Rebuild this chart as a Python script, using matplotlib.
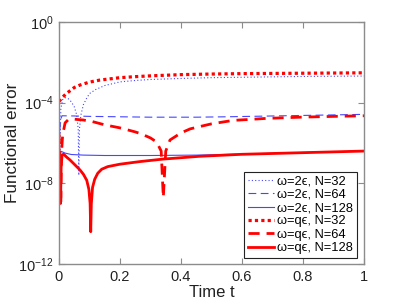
import matplotlib
matplotlib.use("Agg")
import matplotlib.pyplot as plt
import numpy as np

plt.rcParams['font.family'] = ['Liberation Sans', 'DejaVu Sans']
plt.rcParams['mathtext.fontset'] = 'custom'
plt.rcParams['mathtext.rm'] = 'Liberation Sans'
plt.rcParams['mathtext.it'] = 'Liberation Sans:italic'
plt.rcParams['mathtext.sf'] = 'Liberation Sans'

# ---- data (log10 of functional error) ----
t_b32 = [0.0, 0.003, 0.006, 0.012, 0.02, 0.03, 0.04, 0.05, 0.058, 0.063, 0.065, 0.067,
         0.072, 0.08, 0.09, 0.1, 0.12, 0.15, 0.2, 0.25, 0.3, 0.4, 0.5, 0.6, 0.7, 0.8, 0.9, 1.0]
l_b32 = [-5.5, -6.5, -4.3, -3.85, -3.75, -3.8, -3.95, -4.2, -4.6, -5.3, -7.6, -5.3,
         -4.6, -4.1, -3.8, -3.55, -3.35, -3.15, -2.97, -2.9, -2.85, -2.8, -2.76, -2.74,
         -2.72, -2.7, -2.69, -2.68]

t_b64 = [0.0, 0.003, 0.006, 0.01, 0.05, 0.1, 0.2, 0.3, 0.45, 0.55, 0.7, 0.85, 1.0]
l_b64 = [-6.0, -5.3, -4.8, -4.65, -4.66, -4.68, -4.7, -4.72, -4.72, -4.7, -4.66, -4.62, -4.58]

t_b128 = [0.0, 0.002, 0.004, 0.008, 0.02, 0.04, 0.08, 0.15, 0.3, 0.45, 0.6, 0.8, 1.0]
l_b128 = [-9.0, -7.5, -6.5, -6.42, -6.5, -6.57, -6.6, -6.62, -6.62, -6.6, -6.55, -6.47, -6.4]

t_q32 = [0.0, 0.005, 0.01, 0.025, 0.05, 0.07, 0.1, 0.134, 0.2, 0.25, 0.3, 0.4, 0.5,
         0.6, 0.7, 0.8, 0.9, 1.0]
l_q32 = [-3.95, -3.85, -3.75, -3.54, -3.25, -3.12, -2.98, -2.88, -2.76, -2.71, -2.67,
         -2.61, -2.58, -2.56, -2.55, -2.54, -2.53, -2.52]

t_q64 = [0.0, 0.004, 0.006, 0.008, 0.012, 0.02, 0.03, 0.05, 0.08, 0.11, 0.15, 0.2, 0.25,
         0.27, 0.3, 0.32, 0.335, 0.342, 0.35, 0.364, 0.4, 0.43, 0.46, 0.5, 0.57, 0.68,
         0.79, 0.9, 1.0]
l_q64 = [-5.5, -7.0, -9.0, -6.5, -5.6, -5.0, -4.85, -4.82, -4.86, -4.94, -5.1, -5.25,
         -5.45, -5.55, -5.75, -5.95, -6.4, -8.7, -6.4, -5.85, -5.5, -5.3, -5.19, -5.05,
         -4.88, -4.78, -4.72, -4.68, -4.65]

t_q128 = [0.0, 0.003, 0.005, 0.007, 0.01, 0.015, 0.025, 0.036, 0.05, 0.069, 0.08, 0.091,
          0.098, 0.102, 0.104, 0.106, 0.11, 0.117, 0.127, 0.14, 0.16, 0.2, 0.266, 0.34,
          0.46, 0.6, 0.8, 1.0]
l_q128 = [-6.3, -7.2, -9.0, -7.2, -6.6, -6.55, -6.7, -6.84, -7.05, -7.34, -7.55, -7.85,
          -8.3, -9.0, -10.4, -9.0, -8.2, -7.8, -7.5, -7.3, -7.17, -7.05, -6.92, -6.8,
          -6.66, -6.56, -6.48, -6.4]

labels = ['ω=2ϵ, N=32', 'ω=2ϵ, N=64', 'ω=2ϵ, N=128',
          'ω=qϵ, N=32', 'ω=qϵ, N=64', 'ω=qϵ, N=128']

blue = '#4646ff'
red = '#ff0000'

fig = plt.figure(figsize=(4.02, 3.02), dpi=100)
ax = fig.add_axes([59/402, 38/302, 305/402, 242/302])

def p(t, l):
    return np.array(t), 10.0 ** np.array(l)

x, y = p(t_b32, l_b32)
ax.plot(x, y, color=blue, lw=0.8, linestyle=(0, (1, 2)), label=labels[0])
x, y = p(t_b64, l_b64)
ax.plot(x, y, color=blue, lw=0.8, linestyle=(0, (7, 4)), label=labels[1])
x, y = p(t_b128, l_b128)
ax.plot(x, y, color=blue, lw=0.8, linestyle='-', label=labels[2])
x, y = p(t_q32, l_q32)
ax.plot(x, y, color=red, lw=2.3, linestyle=(0, (1, 1)), label=labels[3])
x, y = p(t_q64, l_q64)
ax.plot(x, y, color=red, lw=2.0, linestyle=(0, (4, 2.5)), label=labels[4])
x, y = p(t_q128, l_q128)
ax.plot(x, y, color=red, lw=2.0, linestyle='-', label=labels[5])

ax.set_yscale('log')
ax.set_xlim(0, 1)
ax.set_ylim(1e-12, 1e0)
ax.set_xticks([0, 0.2, 0.4, 0.6, 0.8, 1.0])
ax.set_xticklabels(['0', '0.2', '0.4', '0.6', '0.8', '1'])
ax.set_yticks([1e-12, 1e-8, 1e-4, 1e0])
ax.set_yticklabels([r'10$^{-12}$', r'10$^{-8}$', r'10$^{-4}$', r'10$^{0}$'])
ax.yaxis.set_minor_locator(matplotlib.ticker.NullLocator())

gray = '#8c8c8c'
for s in ax.spines.values():
    s.set_color(gray)
    s.set_linewidth(1.0)
ax.tick_params(which='both', direction='in', top=True, right=True, length=4,
               color=gray, labelsize=10.5, labelcolor='#222222', pad=4)

ax.set_xlabel('Time t', fontsize=12, color='#222222', labelpad=1)
ax.set_ylabel('Functional error', fontsize=12.3, color='#222222')
ax.yaxis.set_label_coords(-0.128, 0.5)

leg = ax.legend(loc='lower right', bbox_to_anchor=(357/402, 44/302),
                bbox_transform=fig.transFigure, fontsize=9.3, frameon=True,
                fancybox=False, edgecolor='#222222', framealpha=1,
                handlelength=2.0, handletextpad=0.25, labelspacing=0.1,
                borderpad=0.3, borderaxespad=0)
leg.get_frame().set_linewidth(0.8)

fig.savefig('out.png', dpi=100)
